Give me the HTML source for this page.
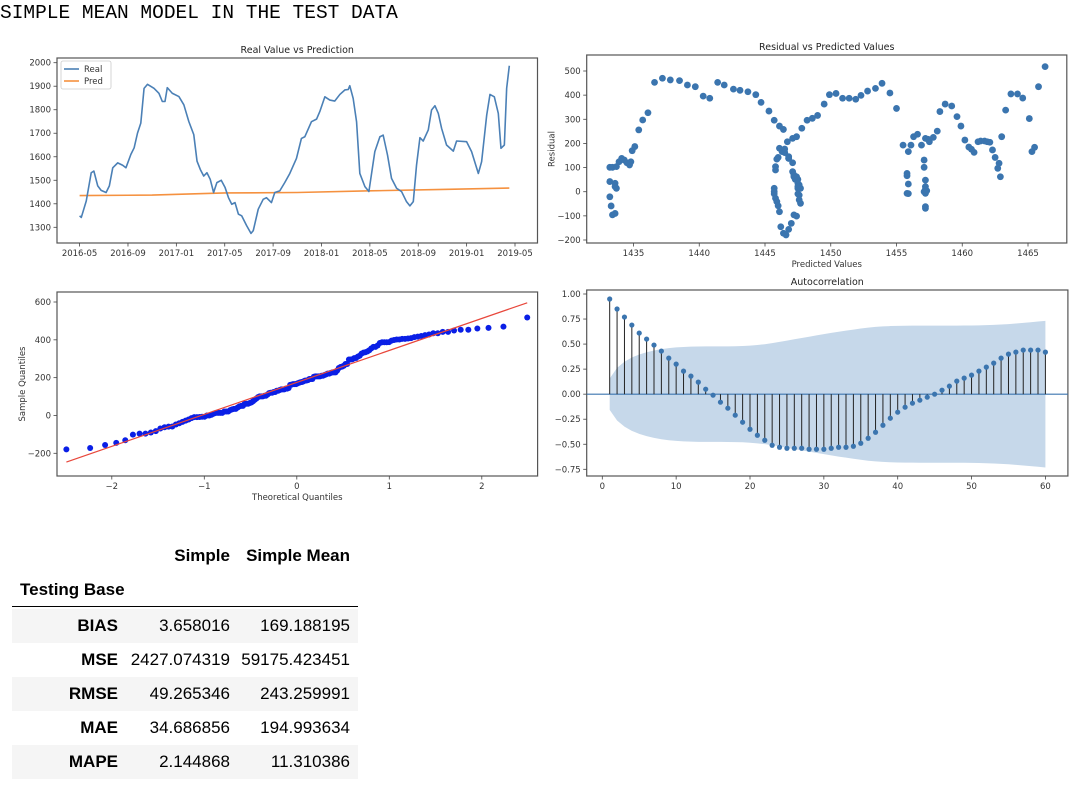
<!DOCTYPE html>
<html><head><meta charset="utf-8">
<style>
html,body{margin:0;padding:0;background:#fff;width:1080px;height:786px;overflow:hidden;position:relative}
#title{position:absolute;left:0;top:2px;font-family:"Liberation Mono",monospace;font-size:19.5px;color:#000;white-space:pre}
svg{position:absolute;left:0;top:0}
.tb{position:absolute;font-family:"Liberation Sans",sans-serif;font-size:17px;color:#000}
.row{position:absolute;left:12px;width:346px;height:34px}
.row.sh{background:#f5f5f5}
.c{position:absolute;top:0;line-height:34px;text-align:right;white-space:nowrap}
.l{right:240px;font-weight:bold}
.v1{right:128px}
.v2{right:8px}
</style></head>
<body>
<div id="title">SIMPLE MEAN MODEL IN THE TEST DATA</div>
<svg id="chart" width="1080" height="786" xmlns="http://www.w3.org/2000/svg"></svg>

<div class="tb" style="left:0;top:540px;width:370px;height:246px">
  <div class="c" style="right:140px;top:0;font-weight:bold;line-height:32px">Simple</div>
  <div class="c" style="right:20px;top:0;font-weight:bold;line-height:32px">Simple Mean</div>
  <div class="c" style="left:20px;top:34px;font-weight:bold;text-align:left;line-height:32px">Testing Base</div>
  <div style="position:absolute;left:12px;width:346px;top:66px;height:1px;background:#000"></div>
  <div class="row sh" style="top:69px"><span class="c l">BIAS</span><span class="c v1">3.658016</span><span class="c v2">169.188195</span></div>
  <div class="row" style="top:103px"><span class="c l">MSE</span><span class="c v1">2427.074319</span><span class="c v2">59175.423451</span></div>
  <div class="row sh" style="top:137px"><span class="c l">RMSE</span><span class="c v1">49.265346</span><span class="c v2">243.259991</span></div>
  <div class="row" style="top:171px"><span class="c l">MAE</span><span class="c v1">34.686856</span><span class="c v2">194.993634</span></div>
  <div class="row sh" style="top:205px"><span class="c l">MAPE</span><span class="c v1">2.144868</span><span class="c v2">11.310386</span></div>
</div>

<script>
// ---------- DATA ----------
const realMonths=[0,0.14,0.55,0.96,1.18,1.50,1.78,2.19,2.46,2.74,3.15,3.56,3.83,4.24,4.51,4.79,5.06,5.33,5.61,6.15,6.56,6.84,7.06,7.25,7.66,8.21,8.62,9.03,9.44,9.71,9.98,10.26,10.53,10.80,11.08,11.35,11.71,12.03,12.31,12.58,12.85,13.13,13.40,13.81,14.17,14.36,14.77,15.18,15.45,15.86,16.14,16.55,16.96,17.38,17.93,18.34,18.62,19.17,19.59,19.86,20.28,20.69,21.10,21.52,21.93,22.21,22.34,22.62,22.90,23.17,23.59,23.92,24.41,24.83,25.10,25.46,25.79,26.21,26.62,27.03,27.31,27.59,27.86,28.14,28.41,28.83,29.10,29.38,29.66,29.93,30.34,30.90,31.17,32.00,32.41,32.97,33.24,33.66,33.93,34.29,34.62,34.84,35.12,35.31,35.53];
const realVals=[1349,1342,1412,1532,1539,1476,1457,1448,1476,1553,1574,1564,1553,1610,1638,1701,1743,1891,1908,1891,1870,1835,1835,1894,1870,1856,1821,1750,1694,1581,1546,1518,1532,1504,1448,1490,1500,1469,1426,1398,1405,1356,1349,1307,1274,1286,1377,1419,1426,1405,1448,1455,1490,1529,1593,1678,1685,1749,1760,1792,1855,1841,1837,1865,1884,1886,1902,1848,1749,1529,1473,1452,1622,1685,1692,1607,1508,1466,1452,1409,1391,1409,1565,1681,1667,1714,1799,1817,1784,1721,1650,1624,1667,1664,1622,1529,1579,1777,1865,1855,1784,1636,1650,1891,1987];
const predMonths=[0,6,12,18,24,30,35.53];
const predVals=[1435,1437,1446,1448,1455,1461,1467];
const p1XTicks=[0,4,8,12,16,20,24,28,32,36];
const p1XLabels=["2016-05","2016-09","2017-01","2017-05","2017-09","2018-01","2018-05","2018-09","2019-01","2019-05"];
const p1YTicks=[1300,1400,1500,1600,1700,1800,1900,2000];
const resX=[1433.2,1433.2,1433.3,1433.4,1433.6,1433.6,1433.6,1433.7,1433.2,1433.4,1433.7,1433.9,1434.1,1434.3,1434.5,1434.7,1434.8,1434.9,1435.1,1435.4,1435.7,1436.1,1436.6,1437.2,1437.8,1438.5,1439.1,1439.7,1440.3,1440.8,1441.4,1441.9,1442.6,1443.1,1443.7,1444.3,1444.7,1445.3,1445.7,1446.1,1446.4,1446.3,1446.1,1446.0,1445.9,1445.8,1445.8,1445.7,1445.7,1445.7,1445.8,1445.9,1446.0,1446.1,1446.2,1446.4,1446.6,1446.8,1447.0,1447.2,1447.4,1447.5,1447.2,1447.1,1446.8,1446.7,1447.1,1447.4,1447.8,1447.4,1447.3,1447.2,1447.5,1447.5,1447.5,1447.6,1447.6,1447.7,1447.6,1447.1,1446.8,1446.8,1446.5,1446.5,1447.5,1447.7,1448.2,1448.6,1449.0,1449.5,1449.9,1450.4,1450.9,1451.4,1451.9,1452.3,1452.8,1453.4,1453.9,1454.5,1455.0,1455.5,1455.8,1455.8,1455.9,1455.8,1455.9,1455.9,1456.1,1456.3,1456.6,1456.9,1457.1,1457.1,1457.1,1457.2,1457.2,1457.2,1457.2,1457.3,1457.2,1457.2,1457.2,1457.4,1457.5,1457.8,1458.1,1458.3,1458.7,1459.2,1459.6,1459.9,1460.2,1460.5,1460.7,1460.9,1461.2,1461.4,1461.7,1461.9,1462.1,1462.3,1462.5,1462.7,1462.8,1462.9,1463.0,1463.3,1463.7,1464.2,1464.6,1465.1,1465.3,1465.5,1465.8,1466.3];
const resY=[42,-21,-59,-96,-90,35,21,14,101,101,104,124,138,131,120,111,124,170,187,256,297,327,453,470,463,460,442,435,396,387,453,442,425,420,414,402,370,334,296,272,258,166,180,142,135,104,90,14,0,-9,-27,-41,-58,-83,-145,-172,-179,-156,-131,-96,-101,14,62,83,138,207,221,228,263,62,51,69,51,35,-9,-14,-34,-48,28,120,138,145,177,162,21,14,296,304,316,363,402,407,387,387,383,399,417,428,449,409,345,193,66,76,32,-7,-8,166,193,228,238,193,131,101,0,-7,48,21,10,4,-62,-69,221,217,207,225,251,332,363,355,311,272,214,185,176,163,207,210,210,207,205,173,142,97,118,62,228,338,405,405,388,303,166,184,435,518];
const p2XTicks=[1435,1440,1445,1450,1455,1460,1465];
const p2YTicks=[-200,-100,0,100,200,300,400,500];
const p3XTicks=[-2,-1,0,1,2];
const p3YTicks=[-200,0,200,400,600];
const acfVals=[0.95,0.85,0.77,0.69,0.61,0.55,0.49,0.43,0.36,0.30,0.23,0.18,0.12,0.05,-0.01,-0.08,-0.14,-0.21,-0.28,-0.35,-0.41,-0.46,-0.51,-0.53,-0.54,-0.54,-0.54,-0.55,-0.55,-0.55,-0.54,-0.53,-0.53,-0.52,-0.49,-0.44,-0.38,-0.31,-0.24,-0.18,-0.13,-0.09,-0.06,-0.03,0.00,0.04,0.08,0.13,0.16,0.19,0.23,0.27,0.31,0.36,0.40,0.42,0.44,0.44,0.44,0.42];
const acfN=156;
const p4XTicks=[0,10,20,30,40,50,60];
const p4YTicks=[-0.75,-0.5,-0.25,0,0.25,0.5,0.75,1.0];

// ---------- DRAW ----------
const NS="http://www.w3.org/2000/svg";
const svg=document.getElementById('chart');
const FONT='"DejaVu Sans","Liberation Sans",sans-serif';
function mk(tag,attrs,parent){const e=document.createElementNS(NS,tag);for(const k in attrs)e.setAttribute(k,attrs[k]);(parent||svg).appendChild(e);return e;}
function lin(d0,d1,r0,r1){return v=>r0+(v-d0)*(r1-r0)/(d1-d0);}

function axes(name,box,title,sx,sy,xt,xl,yt,yl,xlabel,ylabel){
  const g=mk('g',{});
  
  
  const fr=mk('rect',{x:box.x0,y:box.y0,width:box.x1-box.x0,height:box.y1-box.y0,fill:'none',stroke:'#555','stroke-width':1.2},g);
  
  
  if(title){const t=mk('text',{x:(box.x0+box.x1)/2,y:box.y0-5,'text-anchor':'middle','font-family':FONT,'font-size':9.5,fill:'#222'},g);t.textContent=title;
    
    }
  xt.forEach((v,i)=>{const x=sx(v);
    const tk=mk('line',{x1:x,x2:x,y1:box.y1,y2:box.y1+3.5,stroke:'#444','stroke-width':0.8},g);
    
    
    const t=mk('text',{x:x,y:box.y1+13,'text-anchor':'middle','font-family':FONT,'font-size':8.5,fill:'#333'},g);t.textContent=xl[i];
    
    });
  yt.forEach((v,i)=>{const y=sy(v);
    const tk=mk('line',{x1:box.x0-3.5,x2:box.x0,y1:y,y2:y,stroke:'#444','stroke-width':0.8},g);
    
    
    const t=mk('text',{x:box.x0-6,y:y+3,'text-anchor':'end','font-family':FONT,'font-size':8.5,fill:'#333'},g);t.textContent=yl[i];
    
    });
  if(xlabel){const t=mk('text',{x:(box.x0+box.x1)/2,y:box.y1+24,'text-anchor':'middle','font-family':FONT,'font-size':8.5,fill:'#333'},g);t.textContent=xlabel;
    
    }
  if(ylabel){const cx=box.x0-32,cy=(box.y0+box.y1)/2;const t=mk('text',{x:cx,y:cy,'text-anchor':'middle','font-family':FONT,'font-size':8.5,fill:'#333',transform:'rotate(-90 '+cx+' '+cy+')'},g);t.textContent=ylabel;
    
    }
  return g;
}

// Panel 1
(function(){
  const box={x0:57,x1:537.5,y0:58,y1:243};
  const sx=lin(0,36,79.6,515),sy=lin(1300,2000,227.3,62.7);
  const g=axes('real-vs-prediction-chart',box,'Real Value vs Prediction',sx,sy,p1XTicks,p1XLabels,p1YTicks,p1YTicks.map(String));
  const pr=mk('polyline',{points:predMonths.map((m,i)=>sx(m)+','+sy(predVals[i])).join(' '),fill:'none',stroke:'#f5913f','stroke-width':1.6},g);
  
  
  const rl=mk('polyline',{points:realMonths.map((m,i)=>sx(m)+','+sy(realVals[i])).join(' '),fill:'none',stroke:'#4b80b6','stroke-width':1.6,'stroke-linejoin':'round'},g);
  
  
  const lg=mk('g',{},g);
  
  
  mk('rect',{x:61,y:61,width:50,height:28,rx:2,fill:'#fff',stroke:'#ccc','stroke-width':0.8},lg);
  const e1=mk('line',{x1:64,x2:79,y1:69,y2:69,stroke:'#4b80b6','stroke-width':1.6},lg);
  
  
  const t1=mk('text',{x:84,y:72,'font-family':FONT,'font-size':8.5,fill:'#333'},lg);t1.textContent='Real';
  
  
  const e2=mk('line',{x1:64,x2:79,y1:81,y2:81,stroke:'#f5913f','stroke-width':1.6},lg);
  
  
  const t2=mk('text',{x:84,y:84,'font-family':FONT,'font-size':8.5,fill:'#333'},lg);t2.textContent='Pred';
  
  
})();

// Panel 2
(function(){
  const box={x0:586.7,x1:1066.8,y0:55,y1:243};
  const sx=lin(1435,1465,633.5,1028),sy=lin(-200,500,240,71);
  const g=axes('residual-vs-predicted-chart',box,'Residual vs Predicted Values',sx,sy,p2XTicks,p2XTicks.map(String),p2YTicks,p2YTicks.map(v=>v<0?'\u2212'+(-v):String(v)),'Predicted Values','Residual');
  resX.forEach((x,i)=>{const c=mk('circle',{cx:sx(x),cy:sy(resY[i]),r:3.4,fill:'#3b75af'},g);
    
    });
})();

// Panel 3: QQ computed from residuals
function erf(x){const s=x<0?-1:1;x=Math.abs(x);const t=1/(1+0.3275911*x);const y=1-(((((1.061405429*t-1.453152027)*t)+1.421413741)*t-0.284496736)*t+0.254829592)*t*Math.exp(-x*x);return s*y;}
function ncdf(z){return 0.5*(1+erf(z/Math.SQRT2));}
function ppf(p){let lo=-8,hi=8;for(let k=0;k<60;k++){const m=(lo+hi)/2;if(ncdf(m)<p)lo=m;else hi=m;}return (lo+hi)/2;}
(function(){
  const box={x0:57,x1:537.6,y0:292,y1:476};
  const sx=lin(-2,2,111.8,481.8),sy=lin(-200,600,453.3,302);
  const g=axes('qq-plot',box,null,sx,sy,p3XTicks,p3XTicks.map(v=>v<0?'\u2212'+(-v):String(v)),p3YTicks,p3YTicks.map(v=>v<0?'\u2212'+(-v):String(v)),'Theoretical Quantiles','Sample Quantiles');
  const s=resY.slice().sort((a,b)=>a-b);const n=s.length;
  const mean=s.reduce((a,b)=>a+b,0)/n;const sd=Math.sqrt(s.reduce((a,b)=>a+(b-mean)*(b-mean),0)/(n-1));
  const th=s.map((v,i)=>ppf((i+1)/(n+1)));
  s.forEach((v,i)=>{const c=mk('circle',{cx:sx(th[i]),cy:sy(v),r:3,fill:'#0a1fe6'},g);
    
    });
  const a=th[0],b=th[n-1];
  const ln=mk('line',{x1:sx(a),y1:sy(mean+sd*a),x2:sx(b),y2:sy(mean+sd*b),stroke:'#e8473b','stroke-width':1.2},g);
  
  
})();

// Panel 4: ACF
(function(){
  const box={x0:586.7,x1:1067.9,y0:290,y1:476};
  const sx=lin(0,60,602.3,1045.4),sy=lin(-0.75,1,469.3,294);
  const g=axes('autocorrelation-chart',box,'Autocorrelation',sx,sy,p4XTicks,p4XTicks.map(String),p4YTicks,p4YTicks.map(v=>(v<0?'\u2212':'')+Math.abs(v).toFixed(2)));
  const se=1.96/Math.sqrt(acfN);let cum=0;const band=[];
  acfVals.forEach((r,i)=>{band.push(se*Math.sqrt(1+2*cum));cum+=r*r;});
  const up=band.map((b,i)=>sx(i+1)+','+sy(b)),dn=band.map((b,i)=>sx(i+1)+','+sy(-b)).reverse();
  const poly=mk('polygon',{points:up.concat(dn).join(' '),fill:'#c6d8ea'},g);
  
  
  const z=mk('line',{x1:box.x0,x2:box.x1,y1:sy(0),y2:sy(0),stroke:'#3b75af','stroke-width':1.2},g);
  
  
  acfVals.forEach((r,i)=>{const x=sx(i+1);
    const st=mk('line',{x1:x,x2:x,y1:sy(0),y2:sy(r),stroke:'#222','stroke-width':1},g);
    
    
    const c=mk('circle',{cx:x,cy:sy(r),r:2.6,fill:'#3b75af'},g);
    
    });
})();
</script>
</body></html>
